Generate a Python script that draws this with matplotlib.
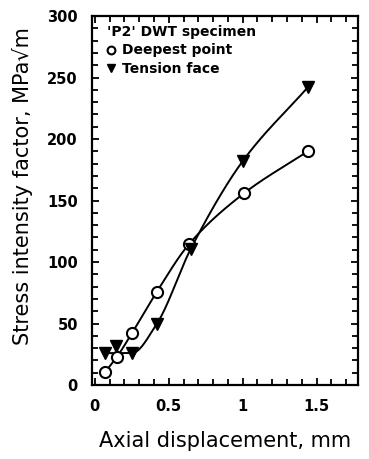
import numpy as np
import matplotlib
matplotlib.use("Agg")
import matplotlib.pyplot as plt
from matplotlib.ticker import MultipleLocator

# Data
disp_deep = [0.07, 0.15, 0.25, 0.42, 0.64, 1.01, 1.44]
k_deep = [10.5, 23, 42, 76, 115, 156, 190]
disp_tens = [0.07, 0.14, 0.25, 0.42, 0.65, 1.00, 1.44]
k_tens = [26, 32, 26, 50, 111, 182, 242]

xticks = [0, 0.5, 1, 1.5]
xticklabels = ["0", "0.5", "1", "1.5"]
yticks = [0, 50, 100, 150, 200, 250, 300]

plt.rcParams['font.family'] = ['DejaVu Sans']

def pchip(x, y, xs):
    x = np.asarray(x, float); y = np.asarray(y, float)
    h = np.diff(x); d = np.diff(y) / h
    n = len(x); m = np.zeros(n)
    for k in range(1, n - 1):
        if d[k - 1] * d[k] > 0:
            w1 = 2 * h[k] + h[k - 1]; w2 = h[k] + 2 * h[k - 1]
            m[k] = (w1 + w2) / (w1 / d[k - 1] + w2 / d[k])
    m[0] = d[0]; m[-1] = d[-1]
    idx = np.clip(np.searchsorted(x, xs) - 1, 0, n - 2)
    t = (xs - x[idx]) / h[idx]
    h00 = 2*t**3 - 3*t**2 + 1; h10 = t**3 - 2*t**2 + t
    h01 = -2*t**3 + 3*t**2; h11 = t**3 - t**2
    return h00*y[idx] + h10*h[idx]*m[idx] + h01*y[idx+1] + h11*h[idx]*m[idx+1]

fig = plt.figure(figsize=(3.69, 4.59), dpi=100)
ax = fig.add_axes([0.249, 0.161, 0.721, 0.804])

xs = np.linspace(disp_deep[0], disp_deep[-1], 300)
ax.plot(xs, pchip(disp_deep, k_deep, xs), color='black', lw=1.4)
# smooth trend for tension face (the second point lies above the drawn curve)
tx = [disp_tens[0]] + disp_tens[2:]
ty = [k_tens[0]] + k_tens[2:]
xt = np.linspace(disp_tens[0], disp_tens[-1], 300)
ax.plot(xt, pchip(tx, ty, xt), color='black', lw=1.4)

h1, = ax.plot(disp_deep, k_deep, 'o', ms=8, mfc='white', mec='black', mew=1.5, ls='none',
              label='Deepest point')
h2, = ax.plot(disp_tens, k_tens, 'v', ms=9, color='black', ls='none', label='Tension face')

ax.set_xlim(-0.02, 1.78)
ax.set_ylim(0, 300)
ax.set_xticks(xticks)
ax.set_xticklabels(xticklabels)
ax.set_yticks(yticks)
ax.xaxis.set_minor_locator(MultipleLocator(0.1))
ax.yaxis.set_minor_locator(MultipleLocator(10))
ax.tick_params(which='both', direction='in', top=True, right=True, width=1.3)
ax.tick_params(which='major', length=5, labelsize=10.5, pad=10)
ax.tick_params(which='minor', length=4)
for lab in ax.get_xticklabels() + ax.get_yticklabels():
    lab.set_fontweight('bold')
for s in ax.spines.values():
    s.set_linewidth(1.6)

ax.set_xlabel('Axial displacement, mm', fontsize=15, labelpad=12)
ax.set_ylabel('Stress intensity factor, MPa√m', fontsize=15)
ax.yaxis.set_label_coords(-0.22, 0.54)

leg = ax.legend(handles=[h1, h2], loc='upper left', bbox_to_anchor=(0.055, 0.975),
                frameon=False, borderaxespad=0, borderpad=0,
                title="'P2' DWT specimen", alignment='left',
                prop={'size': 10, 'weight': 'bold'}, handlelength=0.6,
                handletextpad=0.5, labelspacing=0.3,
                markerscale=0.7)
leg.get_title().set_fontsize(10)
leg.get_title().set_fontweight('bold')
leg._legend_box.sep = 3

fig.savefig('out.png', dpi=100)
